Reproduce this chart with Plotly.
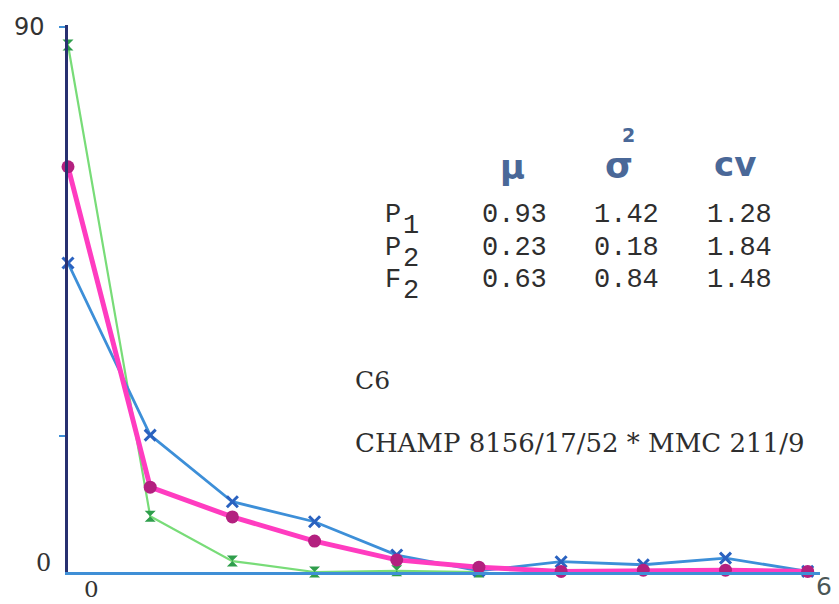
import plotly.graph_objects as go

# ---------------- data ----------------
x_vals = [0, 1, 2, 3, 4, 5, 6, 7, 8, 9]
p1_blue = [51.0, 22.6, 11.6, 8.3, 2.8, 0.2, 1.7, 1.2, 2.3, 0.1]
f2_pink = [66.9, 14.0, 9.1, 5.1, 2.0, 0.8, 0.1, 0.3, 0.3, 0.1]
p2_green = [87.0, 9.2, 1.8, 0.0, 0.2, 0.0, None, None, None, None]

table_rows = ["P", "P", "F"]
table_subs = ["1", "2", "2"]
table_mu = ["0.93", "0.23", "0.63"]
table_var = ["1.42", "0.18", "0.84"]
table_cv = ["1.28", "1.84", "1.48"]

y_tick_labels = ["0", "90"]
x_tick_labels = ["0", "6"]
caption_1 = "C6"
caption_2 = "CHAMP 8156/17/52 * MMC 211/9"

# ---------------- layout geometry ----------------
OFF = 8                      # page body margin
W, H = 831, 596
L, R, T, B = 60, 19, 17, 32
PW, PH = W - L - R, H - T - B


def px(xp):
    return (xp - OFF - L) / PW


def py(yp):
    return (H - B - (yp - OFF)) / PH


fig = go.Figure()

fig.add_trace(go.Scatter(
    x=x_vals, y=p2_green, mode="lines+markers", cliponaxis=False,
    line=dict(color="#78dc78", width=2.2),
    marker=dict(symbol="hourglass", size=11, color="#2f9e4c"),
    showlegend=False))

fig.add_trace(go.Scatter(
    x=x_vals, y=p1_blue, mode="lines+markers", cliponaxis=False,
    line=dict(color="#3d8fd8", width=2.8),
    marker=dict(symbol="x-thin", size=11, line=dict(color="#2a62c0", width=3)),
    showlegend=False))

fig.add_trace(go.Scatter(
    x=x_vals, y=f2_pink, mode="lines+markers", cliponaxis=False,
    line=dict(color="#ff3cc0", width=5),
    marker=dict(symbol="circle", size=13, color="#b3207f"),
    showlegend=False))

ann = []
mono = "Liberation Mono"
serif = "DejaVu Serif"
sans = "DejaVu Sans"


def add(text, xp, yp, size, family, color="#2e2e2e", xanchor="center", bold=False):
    t = f"<b>{text}</b>" if bold else text
    ann.append(dict(text=t, x=px(xp), y=py(yp), xref="paper", yref="paper",
                    xanchor=xanchor, yanchor="middle", showarrow=False,
                    font=dict(size=size, family=family, color=color)))


# axis labels
add(y_tick_labels[1], 29, 27, 24, sans, "#333333")
add(y_tick_labels[0], 43, 563, 24, serif, "#333333")
add(x_tick_labels[0], 91, 589, 23, serif, "#333333")
add(x_tick_labels[1], 824, 586, 25, sans, "#4a5656")

# table headers
hdr = "#4a6898"
add("μ", 512, 167, 34, sans, hdr, bold=True)
add("σ", 619, 166, 36, sans, hdr, bold=True)
add("2", 628, 135, 19, sans, hdr, bold=True)
add("cv", 735, 164, 34, sans, hdr, bold=True)

row_y = [215, 248, 280]
for i in range(3):
    add(table_rows[i], 393, row_y[i], 27, mono)
    add(table_subs[i], 411, row_y[i] + 11, 27, mono)
    add(table_mu[i], 514, row_y[i], 27, mono)
    add(table_var[i], 626, row_y[i], 27, mono)
    add(table_cv[i], 739, row_y[i], 27, mono)

add(caption_1, 353, 380, 25, serif, xanchor="left")
add(caption_2, 353, 443, 26, serif, xanchor="left")

fig.update_layout(
    width=W, height=H,
    margin=dict(l=L, r=R, t=T, b=B),
    paper_bgcolor="white", plot_bgcolor="white",
    annotations=ann,
    xaxis=dict(range=[0, 9.15], showgrid=False, zeroline=False,
               showline=True, linecolor="#3f8fd6", linewidth=2.5,
               showticklabels=False, ticks=""),
    yaxis=dict(range=[0, 90.3], showgrid=False, zeroline=False,
               showline=True, linecolor="#283070", linewidth=3,
               showticklabels=False, ticks="outside",
               tickvals=[22.5, 90], ticklen=6, tickwidth=2, tickcolor="#3f8fd6"),
)

fig.write_html("out.html")
